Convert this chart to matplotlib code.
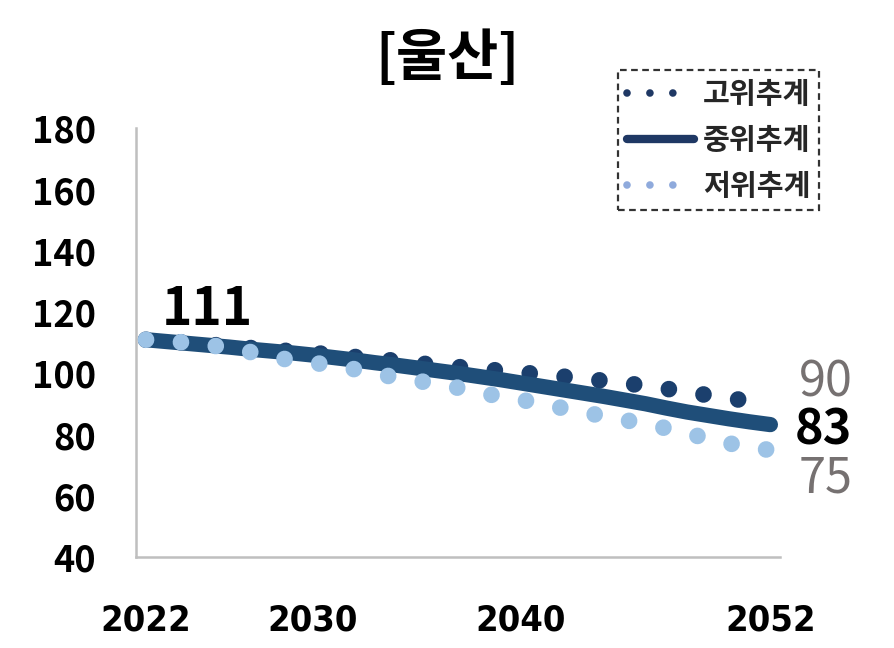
import matplotlib
matplotlib.use("Agg")
import matplotlib.pyplot as plt
from matplotlib.lines import Line2D

plt.rcParams['font.family'] = ['Noto Sans CJK KR', 'DejaVu Sans']

# data
years = list(range(2022, 2053))
high = [111.0, 110.5, 110.0, 109.4, 108.9, 108.3, 107.8, 107.2, 106.7, 106.1,
        105.4, 104.8, 104.1, 103.4, 102.7, 102.1, 101.5, 100.9, 100.3, 99.7,
        99.0, 98.3, 97.6, 96.8, 96.0, 95.0, 94.0, 92.9, 91.9, 91.0, 90.2]
mid = [111.0, 110.4, 109.8, 109.2, 108.6, 107.9, 107.3, 106.7, 106.0, 105.2,
       104.4, 103.5, 102.7, 101.8, 100.9, 100.0, 99.0, 98.0, 96.9, 95.8,
       94.7, 93.6, 92.5, 91.3, 90.1, 88.7, 87.4, 86.3, 85.2, 84.2, 83.3]
low = [111.0, 110.6, 110.0, 109.3, 108.3, 107.0, 105.5, 104.3, 103.5, 102.6,
       101.4, 100.0, 98.7, 97.6, 96.6, 95.3, 93.8, 92.5, 91.4, 90.2,
       88.7, 87.3, 86.1, 84.8, 83.5, 82.1, 80.5, 78.7, 77.2, 75.9, 75.0]
series_names = ['고위추계', '중위추계', '저위추계']
x_ticks = [2022, 2030, 2040, 2052]
y_ticks = [40, 60, 80, 100, 120, 140, 160, 180]
title = '[울산]'

c_high = '#1B3F6D'
c_mid = '#1F4E79'
c_low = '#9DC3E6'

fig = plt.figure(figsize=(8.95, 6.48), dpi=100)
ax = fig.add_axes([0.152, 0.140, 0.719, 0.662])

# dotted series drawn as round-dot dash pattern (like excel)
ax.plot(years, high, color=c_high, lw=12, linestyle=(0, (0.001, 2.1)),
        dash_capstyle='round', zorder=2)
ax.plot(years, mid, color=c_mid, lw=11, solid_capstyle='round', zorder=3)
ax.plot(years, low, color=c_low, lw=12, linestyle=(0, (0.001, 2.1)),
        dash_capstyle='round', zorder=4)

ax.set_xlim(2021.52, 2052.44)
ax.set_ylim(40, 180)
ax.set_xticks(x_ticks)
ax.set_yticks(y_ticks)
ax.tick_params(length=0)
ax.tick_params(axis='y', pad=29, labelsize=26)
ax.tick_params(axis='x', pad=33, labelsize=26)
for lab in ax.get_yticklabels():
    lab.set_fontweight('bold')
for lab in ax.get_xticklabels():
    lab.set_fontweight('bold')
    lab.set_family(['DejaVu Sans'])
    lab.set_fontstretch('condensed')

for s in ['top', 'right']:
    ax.spines[s].set_visible(False)
for s in ['left', 'bottom']:
    ax.spines[s].set_color('#BFBFBF')
    ax.spines[s].set_linewidth(1.8)

# labels at start / end
ax.annotate(f'{mid[0]:.0f}', xy=(years[0], mid[0]), xytext=(44, 22),
            textcoords='offset points', ha='center', va='center',
            fontsize=37, fontweight='bold', color='black')
ax.annotate(f'{high[-1]:.0f}', xy=(years[-1], high[-1]), xytext=(40, 15),
            textcoords='offset points', ha='center', va='center',
            fontsize=35, color='#767171', annotation_clip=False)
ax.annotate(f'{mid[-1]:.0f}', xy=(years[-1], mid[-1]), xytext=(38, -4),
            textcoords='offset points', ha='center', va='center',
            fontsize=35, fontweight='bold', color='black', annotation_clip=False)
ax.annotate(f'{low[-1]:.0f}', xy=(years[-1], low[-1]), xytext=(40, -21),
            textcoords='offset points', ha='center', va='center',
            fontsize=35, color='#767171', annotation_clip=False)

fig.text(0.5, 0.91, title, ha='center', va='center', fontsize=40,
         fontweight='bold')

handles = [
    Line2D([], [], color='#1F3864', lw=5.5, linestyle=(0, (0.001, 3.0)),
           dash_capstyle='round'),
    Line2D([], [], color='#1F3864', lw=6, solid_capstyle='round'),
    Line2D([], [], color='#8FAADC', lw=5.5, linestyle=(0, (0.001, 3.0)),
           dash_capstyle='round'),
]
leg = fig.legend(handles, series_names, loc='upper left',
                 bbox_to_anchor=(0.691, 0.892), frameon=True, fancybox=False,
                 prop={'size': 21, 'weight': 'bold'}, handlelength=2.3,
                 handletextpad=0.3, labelspacing=0.55, borderpad=0.3,
                 borderaxespad=0)
leg.get_frame().set_edgecolor('black')
leg.get_frame().set_linestyle((0, (3, 2)))
leg.get_frame().set_linewidth(1.6)
for t in leg.get_texts():
    t.set_color('#262626')

fig.savefig('out.png', dpi=100)
